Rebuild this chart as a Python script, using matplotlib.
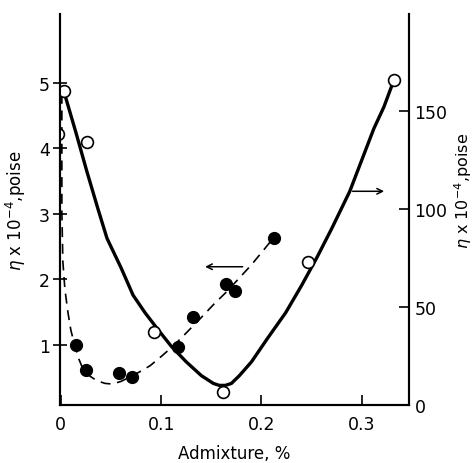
import matplotlib.pyplot as plt

# open circles, right axis (eta x 10^-4, poise)
open_x = [-0.003, 0.003, 0.026, 0.093, 0.162, 0.246, 0.332]
open_y = [138, 160, 134, 37, 6.6, 73, 166]

# solid curve, right axis
solid_x = [0.003, 0.015, 0.026, 0.037, 0.046, 0.060, 0.072, 0.084, 0.096, 0.110,
           0.125, 0.140, 0.152, 0.158, 0.164, 0.170, 0.178, 0.190, 0.206, 0.224,
           0.240, 0.255, 0.270, 0.288, 0.300, 0.312, 0.322, 0.330]
solid_y = [160, 139, 119, 100, 85, 70, 56, 47, 39, 30,
           22, 15, 11, 10, 10, 11, 15, 22, 34, 47,
           61, 75, 90, 109, 125, 141, 152, 163]

# filled circles, left axis
full_x = [0.015, 0.025, 0.058, 0.071, 0.117, 0.132, 0.165, 0.174, 0.212]
full_y = [1.0, 0.62, 0.57, 0.51, 0.97, 1.43, 1.92, 1.82, 2.63]

# dashed curve, left axis
dash_x = [0.001, 0.001, 0.002, 0.004, 0.007, 0.010, 0.014, 0.018, 0.022, 0.029,
          0.036, 0.044, 0.051, 0.060, 0.069, 0.079, 0.089, 0.100, 0.112, 0.125,
          0.139, 0.152, 0.166, 0.190, 0.212]
dash_y = [4.83, 3.03, 2.27, 1.85, 1.50, 1.22, 0.98, 0.78, 0.63, 0.52,
          0.45, 0.41, 0.40, 0.44, 0.51, 0.59, 0.68, 0.82, 0.98, 1.18,
          1.40, 1.61, 1.82, 2.22, 2.63]

plt.rcParams['font.family'] = ['DejaVu Sans']

fig = plt.figure(figsize=(4.75, 4.64), dpi=100)
ax = fig.add_axes([0.126, 0.125, 0.735, 0.843])
ax2 = ax.twinx()

ax.plot(dash_x, dash_y, color='black', lw=1.2, ls=(0, (6, 4)))
ax.plot(full_x, full_y, 'o', color='black', ms=8.5)
ax2.plot(solid_x, solid_y, color='black', lw=2.4)
ax2.plot(open_x, open_y, 'o', mfc='white', mec='black', mew=1.2, ms=8.5)

ax.set_xlim(-0.001, 0.347)
ax.set_ylim(0.08, 6.05)
ax2.set_ylim(0, 199.5)

ax.set_xticks([0, 0.1, 0.2, 0.3])
ax.set_xticklabels(['0', '0.1', '0.2', '0.3'])
ax.set_yticks([1, 2, 3, 4, 5])
ax2.set_yticks([0, 50, 100, 150])

for a in (ax, ax2):
    a.spines['top'].set_visible(False)
    for s in a.spines.values():
        s.set_linewidth(1.5)
ax.tick_params(axis='y', direction='inout', length=10, width=1.2, labelsize=12.5, pad=2)
ax.tick_params(axis='x', direction='in', length=7, width=1.2, labelsize=12.5, pad=7)
ax2.tick_params(axis='y', direction='in', length=7, width=1.2, labelsize=12.5, pad=4)

ax.set_xlabel('Admixture, %', fontsize=12)
ax.xaxis.set_label_coords(0.5, -0.1)
ax.set_ylabel(r'$\eta$ x 10$^{-4}$,poise', fontsize=12)
ax.yaxis.set_label_coords(-0.09, 0.5)
ax2.set_ylabel(r'$\eta$ x 10$^{-4}$,poise', fontsize=11.5, rotation=90)
ax2.yaxis.set_label_coords(1.125, 0.55)

ax.annotate('', xy=(0.141, 2.19), xytext=(0.184, 2.19),
            arrowprops=dict(arrowstyle='->', color='black', lw=1.1))
ax2.annotate('', xy=(0.325, 109), xytext=(0.288, 109),
             arrowprops=dict(arrowstyle='->', color='black', lw=1.1))

fig.savefig('out.png', dpi=100)
